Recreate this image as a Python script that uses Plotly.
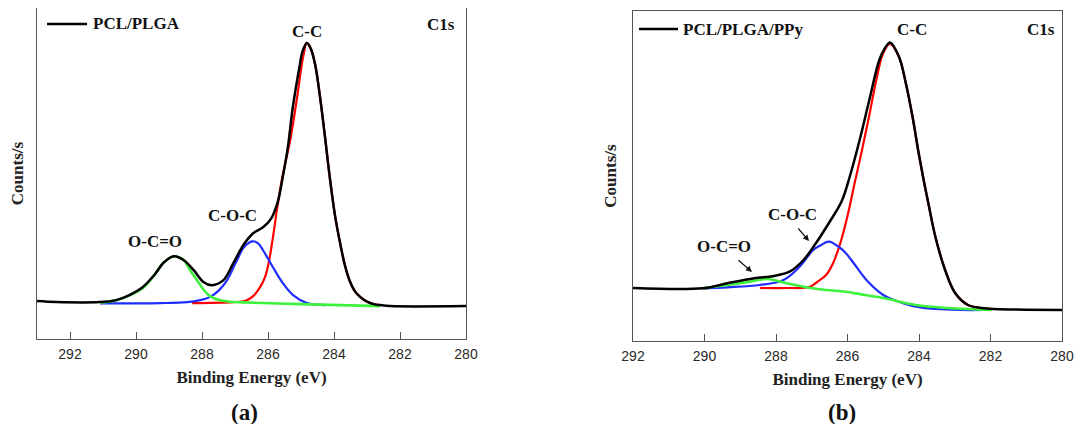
import plotly.graph_objects as go

# Page body has an 8px margin on every side: figure sized so the page fits the 1085x432 window.
OFF = 8
W, H = 1085 - 2 * OFF, 432 - 2 * OFF

# ---------------- Panel (a): PCL/PLGA, C1s ----------------
a_env_E = [293.0, 292.4, 291.1, 290.6, 290.2, 289.8, 289.45, 289.15, 288.85, 288.55, 288.25,
           287.95, 287.7, 287.35, 287.05, 286.75, 286.45, 286.15, 285.9, 285.7, 285.55, 285.4,
           285.25, 285.05, 284.95, 284.82, 284.7, 284.57, 284.42, 284.27, 284.12, 283.97,
           283.82, 283.67, 283.52, 283.37, 283.2, 283.0, 282.8, 282.6, 282.3, 280.0]
a_env_I = [38, 37, 37, 39, 44, 52, 64, 77, 83, 79, 69,
           57, 54, 59, 76, 94, 106, 112, 121, 138, 163, 192,
           232, 272, 289, 297, 291, 275, 242, 202, 160, 124,
           97, 74, 58, 48, 42, 37.5, 35, 34, 33, 33]

a_cc_E = [288.3, 287.06, 286.7, 286.45, 286.24, 286.09, 285.97, 285.85, 285.7, 285.55, 285.33,
          285.12, 284.94, 284.82, 284.7, 284.57, 284.42, 284.27, 284.12, 283.97, 283.82, 283.67,
          283.52, 283.37, 283.2, 283.0, 282.8, 282.6]
a_cc_I = [36, 37, 38, 43, 52, 62, 78, 102, 136, 165, 199,
          242, 282, 297, 291, 275, 242, 202, 160, 124, 97, 74,
          58, 48, 42, 37.5, 35, 34]

a_coc_E = [291.09, 289.27, 288.45, 288.06, 287.76, 287.48, 287.24, 286.94, 286.73, 286.48,
           286.3, 286.15, 285.85, 285.55, 285.24, 284.82, 284.27]
a_coc_I = [35.7, 36, 37, 39, 42, 49, 59, 79, 92, 98,
           96, 89, 72, 56, 44, 36, 34]

a_oco_E = [291.09, 290.58, 290.18, 289.76, 289.45, 289.15, 288.85, 288.55, 288.36, 288.15,
           287.94, 287.76, 287.48, 287.15, 286.73, 285.03, 282.6]
a_oco_I = [36.5, 39, 44, 52, 64, 77, 83, 79, 69, 59,
           49, 43, 39, 37.3, 36.7, 35, 33]

# ---------------- Panel (b): PCL/PLGA/PPy, C1s ----------------
b_env_E = [292.0, 290.04, 289.36, 288.61, 288.06, 287.62, 287.23, 286.88, 286.52, 286.16,
           285.94, 285.66, 285.39, 285.11, 284.95, 284.81, 284.56, 284.37, 284.18, 284.01,
           283.87, 283.74, 283.54, 283.27, 282.99, 282.63, 282.25, 281.89, 280.0]
b_env_I = [53, 52.7, 57.7, 62.7, 65, 69.3, 81, 98, 118, 140,
           164, 201, 241, 281, 293, 298.5, 284.3, 258, 224, 188,
           161, 138, 104, 71, 48, 36, 33, 32, 31]

b_cc_E = [288.45, 287.67, 287.07, 286.85, 286.6, 286.4, 286.2, 286.0, 285.8, 285.6, 285.4,
          285.2, 285.0, 284.81, 284.56, 284.37, 284.18, 284.01, 283.87, 283.74, 283.54,
          283.27, 282.99, 282.63, 282.25, 281.97]
b_cc_I = [53, 53, 54, 59, 66, 78, 98, 125, 158, 190, 224,
          260, 288, 297, 284, 258, 224, 188, 161, 138, 104,
          71, 48, 36, 33, 32]

b_coc_E = [290.04, 289.36, 288.45, 287.79, 287.34, 286.96, 286.74, 286.52, 286.24, 286.05,
           285.83, 285.47, 285.0, 284.56, 284.09, 283.54, 282.85, 282.17]
b_coc_I = [52.7, 53.7, 56, 61, 74.3, 91, 96, 99.3, 94, 88,
           78, 61, 46, 39.3, 34.3, 32, 31, 31]

b_oco_E = [290.04, 289.36, 288.8, 288.25, 287.7, 287.15, 286.6, 286.05, 285.5, 285.0,
           284.09, 283.18, 281.97]
b_oco_I = [52.7, 56, 58.7, 62, 57.7, 53.7, 51, 49.3, 46, 43,
           36, 33, 31]

tick_vals = [292, 290, 288, 286, 284, 282, 280]
tick_text = ["292", "290", "288", "286", "284", "282", "280"]

RED, BLUE, GREEN, BLACK = "#ff0000", "#1f2dff", "#3cf23c", "#000000"
SERIF = "Liberation Serif, Times New Roman, serif"
SANS = "Liberation Sans, Arial, sans-serif"

fig = go.Figure()


def add_panel(xa, ya, env, cc, coc, oco, name):
    common = dict(mode="lines", line_shape="spline", xaxis=xa, yaxis=ya, showlegend=False,
                  hoverinfo="x+y")
    fig.add_trace(go.Scatter(x=cc[0], y=cc[1], line=dict(color=RED, width=2.2), name="C-C", **common))
    fig.add_trace(go.Scatter(x=coc[0], y=coc[1], line=dict(color=BLUE, width=2.2), name="C-O-C", **common))
    fig.add_trace(go.Scatter(x=oco[0], y=oco[1], line=dict(color=GREEN, width=2.6), name="O-C=O", **common))
    fig.add_trace(go.Scatter(x=env[0], y=env[1], line=dict(color=BLACK, width=2.5), name=name, **common))


add_panel("x", "y", (a_env_E, a_env_I), (a_cc_E, a_cc_I), (a_coc_E, a_coc_I), (a_oco_E, a_oco_I), "PCL/PLGA")
add_panel("x2", "y2", (b_env_E, b_env_I), (b_cc_E, b_cc_I), (b_coc_E, b_coc_I), (b_oco_E, b_oco_I), "PCL/PLGA/PPy")


def px(x):
    return min(1.0, max(0.0, (x - OFF) / W))


def py(y):
    return min(1.0, max(0.0, 1 - (y - OFF) / H))


xcommon = dict(showline=True, mirror=True, linecolor="#555555", linewidth=1.2, showgrid=False,
               zeroline=False, ticks="inside", ticklen=7, tickwidth=1, tickcolor="#555555",
               tickvals=tick_vals, ticktext=tick_text, automargin=False, ticklabelstandoff=2,
               ticklabeloverflow="allow",
               tickfont=dict(family=SANS, size=14, color="#2a2a2a"),
               title=dict(text="<b>Binding Energy (eV)</b>", font=dict(family=SERIF, size=17, color="#222"),
                          standoff=10))
ycommon = dict(showline=True, mirror=True, linecolor="#555555", linewidth=1.2, showgrid=False,
               zeroline=False, ticks="", showticklabels=False, automargin=False,
               title=dict(text="<b>Counts/s</b>", font=dict(family=SERIF, size=17, color="#222"),
                          standoff=10))

fig.update_layout(
    width=W, height=H, margin=dict(l=0, r=0, t=0, b=0, autoexpand=False),
    paper_bgcolor="white", plot_bgcolor="white",
    xaxis=dict(domain=[px(37), px(466)], range=[293, 280], anchor="y", **xcommon),
    yaxis=dict(domain=[py(339), py(8)], range=[0, 332], anchor="x", **ycommon),
    xaxis2=dict(domain=[px(633), px(1062)], range=[292, 280], anchor="y2", **xcommon),
    yaxis2=dict(domain=[py(341), py(11)], range=[0, 330], anchor="x2", **ycommon),
)

anns = []


def label(text, x, y, size=17, xanchor="center"):
    anns.append(dict(text="<b>%s</b>" % text, x=px(x), y=py(y), xref="paper", yref="paper",
                     showarrow=False, xanchor=xanchor, yanchor="middle",
                     font=dict(family=SERIF, size=size, color="#111")))


def arrow(x0, y0, x1, y1):
    anns.append(dict(text="", x=px(x1), y=py(y1), xref="paper", yref="paper",
                     ax=x0 - x1, ay=y0 - y1, showarrow=True, arrowhead=2, arrowsize=1,
                     arrowwidth=1.2, arrowcolor="#111"))


# panel (a) labels
label("C-C", 307, 31)
label("C1s", 457, 25, xanchor="right")
label("C-O-C", 232, 215)
label("O-C=O", 155, 241)
label("PCL/PLGA", 91, 24, xanchor="left")
label("(a)", 244, 412, size=23)

# panel (b) labels
label("C-C", 912, 29)
label("C1s", 1057, 29, xanchor="right")
label("C-O-C", 792, 214)
label("O-C=O", 724, 246)
label("PCL/PLGA/PPy", 681, 29, xanchor="left")
label("(b)", 842, 412, size=23)
arrow(737, 259, 752, 272)
arrow(797, 227, 809, 241)

fig.update_layout(annotations=anns)

# legend line samples
fig.add_shape(type="line", xref="paper", yref="paper", x0=px(47), x1=px(87), y0=py(24), y1=py(24),
              line=dict(color=BLACK, width=2.6))
fig.add_shape(type="line", xref="paper", yref="paper", x0=px(639), x1=px(678), y0=py(29), y1=py(29),
              line=dict(color=BLACK, width=2.6))

fig.write_html("out.html")
